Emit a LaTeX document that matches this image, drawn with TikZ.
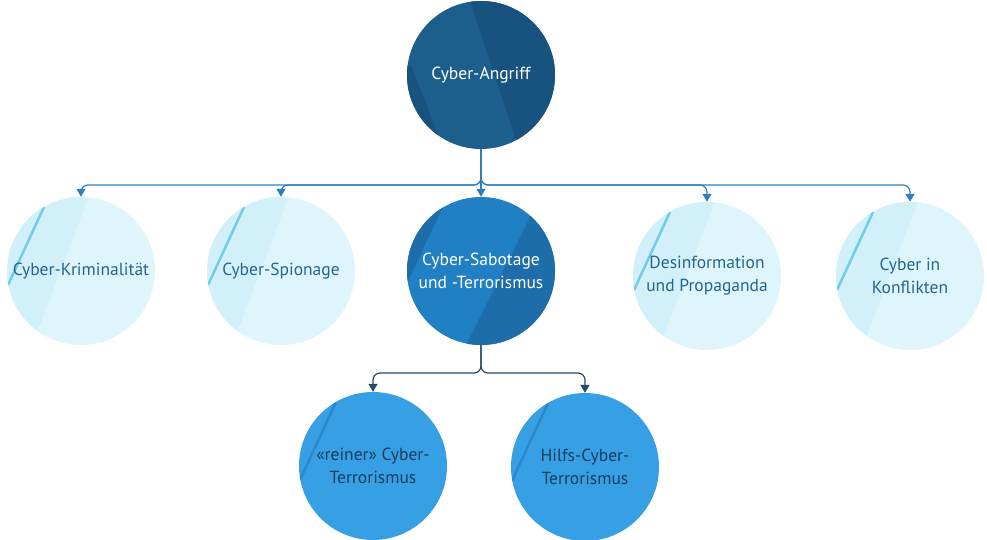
\documentclass[tikz,border=0pt]{standalone}
\usepackage{fontspec}
\setmainfont{PT Sans}
\usetikzlibrary{positioning, calc, arrows.meta, backgrounds}

\definecolor{topblue}{HTML}{1D5F8C}
\definecolor{topdark}{HTML}{185380}
\definecolor{midblue}{HTML}{2180C4}
\definecolor{middark}{HTML}{1C6DAA}
\definecolor{lowblue}{HTML}{37A0E4}
\definecolor{lowdark}{HTML}{2B88CA}
\definecolor{paleblue}{HTML}{DFF5FC}
\definecolor{palemid}{HTML}{D2F0FA}
\definecolor{palestripe}{HTML}{70CDEA}
\definecolor{paletext}{HTML}{23668F}
\definecolor{lowtext}{HTML}{163E5F}
\definecolor{buslight}{HTML}{2F7FC0}
\definecolor{busdark}{HTML}{24496B}

\tikzset{
  ball/.style={circle, minimum size=148bp, inner sep=0pt, align=center,
    font=\fontsize{17.5bp}{23bp}\selectfont},
  topball/.style={ball, text=white},
  midball/.style={ball, text=white},
  paleball/.style={ball, text=paletext},
  lowball/.style={ball, text=lowtext},
  bus/.style={line width=1.2bp, rounded corners=7bp,
    -{Triangle[width=9bp,length=8bp]}},
}

% #1 node, #2 base colour
\newcommand{\ballfill}[2]{%
  \fill[#2] (#1.center) circle[radius=74];
  \clip (#1.center) circle[radius=74];}

\begin{document}
\begin{tikzpicture}[x=1bp, y=-1bp]
  \useasboundingbox (0,0) rectangle (987,540);

  % top level
  \node[topball] (angriff) at (481,75) {Cyber-Angriff};

  % second row
  \node[paleball] (krim) at (81,271) {Cyber-Kriminalität};
  \node[paleball] (spion) at (281,271) {Cyber-Spionage};
  \node[midball] (sabot) at (481,271) {Cyber-Sabotage\\und -Terrorismus};
  \node[paleball] (desinfo) at (707,276) {Desinformation\\und Propaganda};
  \node[paleball] (konflikt) at (910,276) {Cyber in\\Konflikten};

  % third row
  \node[lowball] (rein) at (373,466) {«reiner» Cyber-\\Terrorismus};
  \node[lowball] (hilfs) at (585,467) {Hilfs-Cyber-\\Terrorismus};

  % circle faces
  \begin{scope}[on background layer]
    \begin{scope}
      \ballfill{angriff}{topblue}
      \fill[topdark] ($(angriff.center)+(-13,-80)$) -- ++(100,0) -- ++(0,160)
        -- ($(angriff.center)+(40,80)$) -- cycle;
      \fill[topdark] ($(angriff.center)+(-80,-10)$) -- ++(10,0)
        -- ($(angriff.center)+(-35,80)$) -- ++(-45,0) -- cycle;
    \end{scope}
    \begin{scope}
      \ballfill{sabot}{midblue}
      \fill[middark] ($(sabot.center)+(55,-66)$) -- ++(30,0) -- ++(0,146)
        -- ($(sabot.center)+(-18,80)$) -- cycle;
      \fill[middark] ($(sabot.center)+(-38,-64)$) -- ++(-42,0) -- ++(0,76)
        -- ($(sabot.center)+(-74,12)$) -- cycle;
    \end{scope}
    \foreach \n in {krim, spion, desinfo, konflikt}{
      \begin{scope}
        \ballfill{\n}{paleblue}
        \fill[palemid] ($(\n.center)+(10,-80)$) -- ($(\n.center)+(-48,72)$)
          -- ++(-40,0) -- ++(0,-152) -- cycle;
        \draw[palestripe, line width=2.5bp] ($(\n.center)+(-37,-64)$)
          -- ($(\n.center)+(-73,14)$);
      \end{scope}
    }
    \foreach \n in {rein, hilfs}{
      \begin{scope}
        \ballfill{\n}{lowblue}
        \draw[lowdark, line width=2.5bp] ($(\n.center)+(-37,-64)$)
          -- ($(\n.center)+(-73,14)$);
      \end{scope}
    }
  \end{scope}

  % connectors from the top
  \coordinate (topfork) at (481,185);
  \draw[bus, buslight] (angriff.south) -- (topfork) -| (krim.north);
  \draw[bus, buslight] (angriff.south) -- (topfork) -| (spion.north);
  \draw[bus, buslight] (angriff.south) -- (sabot.north);
  \draw[bus, buslight] (angriff.south) -- (topfork) -| (desinfo.north);
  \draw[bus, buslight] (angriff.south) -- (topfork) -| (konflikt.north);

  % connectors from sabotage
  \coordinate (lowfork) at (481,373);
  \draw[bus, busdark] (sabot.south) -- (lowfork) -| (rein.north);
  \draw[bus, busdark] (sabot.south) -- (lowfork) -| (hilfs.north);
\end{tikzpicture}
\end{document}
